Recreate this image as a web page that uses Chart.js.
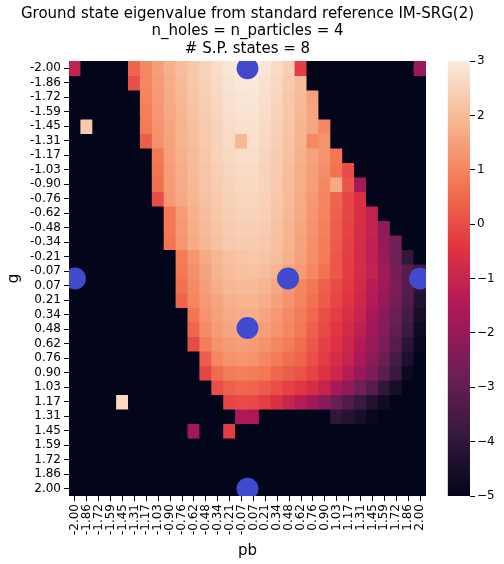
<!DOCTYPE html>
<html><head><meta charset="utf-8">
<script src="https://cdn.jsdelivr.net/npm/chart.js@4"></script>
<style>
html,body{margin:0;padding:0;background:#fff;}
#wrap{position:relative;width:504px;height:564px;overflow:hidden;}
#wrap canvas{position:absolute;top:0;}
</style></head><body>
<div id="wrap">
<canvas id="main" width="504" height="564" style="left:0"></canvas>
<canvas id="cbar" width="78" height="564" style="left:426px"></canvas>
</div>
<script>
const B = -5;
const pbLabels = ["-2.00","-1.86","-1.72","-1.59","-1.45","-1.31","-1.17","-1.03","-0.90","-0.76","-0.62","-0.48","-0.34","-0.21","-0.07","0.07","0.21","0.34","0.48","0.62","0.76","0.90","1.03","1.17","1.31","1.45","1.59","1.72","1.86","2.00"];
const gLabels = ["-2.00","-1.86","-1.72","-1.59","-1.45","-1.31","-1.17","-1.03","-0.90","-0.76","-0.62","-0.48","-0.34","-0.21","-0.07","0.07","0.21","0.34","0.48","0.62","0.76","0.90","1.03","1.17","1.31","1.45","1.59","1.72","1.86","2.00"];
const colorbarTicks = [-5,-4,-3,-2,-1,0,1,2,3];
const titleLines = ["Ground state eigenvalue from standard reference IM-SRG(2)","n_holes = n_particles = 4","# S.P. states = 8"];
// rows = g (top to bottom), columns = pb (left to right)
const eigenvalues = [
[-1.1,B,B,B,B,0.4,1.05,1.45,1.8,2.05,2.25,2.5,2.7,2.9,2.97,3.0,2.9,2.65,2.4,-0.25,B,B,B,B,B,B,B,B,B,-1.9],
[B,B,B,B,B,0.05,1.0,1.4,1.75,2.0,2.25,2.45,2.65,2.85,2.95,2.95,2.8,2.6,2.3,2.05,B,B,B,B,B,B,B,B,B,B],
[B,B,B,B,B,B,0.95,1.35,1.7,1.95,2.2,2.4,2.6,2.8,2.9,2.9,2.75,2.55,2.25,2.0,1.5,B,B,B,B,B,B,B,B,B],
[B,B,B,B,B,B,0.9,1.3,1.65,1.9,2.15,2.35,2.55,2.75,2.85,2.85,2.7,2.5,2.25,1.95,1.6,B,B,B,B,B,B,B,B,B],
[B,2.3,B,B,B,B,0.8,1.25,1.6,1.85,2.1,2.3,2.5,2.7,2.8,2.8,2.65,2.45,2.2,1.9,1.6,1.05,B,B,B,B,B,B,B,B],
[B,B,B,B,B,B,0.3,1.2,1.55,1.85,2.05,2.3,2.5,2.65,1.95,2.75,2.6,2.4,2.15,1.85,1.05,1.25,B,B,B,B,B,B,B,B],
[B,B,B,B,B,B,B,0.75,1.5,1.8,2.0,2.25,2.45,2.6,2.7,2.7,2.55,2.35,2.1,1.8,1.55,1.25,0.7,B,B,B,B,B,B,B],
[B,B,B,B,B,B,B,0.7,1.45,1.75,2.0,2.2,2.4,2.55,2.65,2.65,2.5,2.35,2.05,1.75,1.45,1.15,0.65,0.0,B,B,B,B,B,B],
[B,B,B,B,B,B,B,0.65,1.4,1.7,1.95,2.2,2.35,2.5,2.6,2.6,2.5,2.3,2.0,1.75,1.45,1.05,1.7,0.15,-1.7,B,B,B,B,B],
[B,B,B,B,B,B,B,0.0,1.35,1.65,1.9,2.15,2.3,2.45,2.55,2.55,2.45,2.25,2.0,1.7,1.35,1.0,0.4,-0.1,-0.55,B,B,B,B,B],
[B,B,B,B,B,B,B,B,0.75,1.4,1.8,2.05,2.25,2.4,2.5,2.5,2.4,2.2,1.95,1.65,1.3,0.95,0.35,-0.1,-0.6,-1.1,B,B,B,B],
[B,B,B,B,B,B,B,B,0.75,1.35,1.75,2.0,2.2,2.35,2.4,2.4,2.35,2.15,1.9,1.6,1.25,0.9,0.3,-0.15,-0.65,-1.1,-2.05,B,B,B],
[B,B,B,B,B,B,B,B,0.7,1.3,1.7,1.95,2.15,2.3,2.35,2.35,2.3,2.1,1.85,1.55,1.2,0.85,0.25,-0.2,-0.7,-1.15,-2.0,-2.7,B,B],
[B,B,B,B,B,B,B,B,B,0.8,1.3,1.65,1.95,2.1,2.2,2.25,2.2,2.05,1.8,1.5,1.15,0.8,0.2,-0.25,-0.75,-1.2,-1.95,-2.7,-3.95,B],
[B,B,B,B,B,B,B,B,B,0.75,1.2,1.55,1.85,2.05,2.1,2.15,2.05,1.85,1.6,1.4,1.05,0.65,0.2,-0.25,-0.7,-1.1,-1.8,-2.6,-3.2,-3.7],
[B,B,B,B,B,B,B,B,B,0.65,1.1,1.45,1.75,1.95,2.0,2.0,1.9,1.65,1.35,1.0,0.75,0.35,0.0,-0.35,-0.8,-1.35,-1.85,-2.5,-3.2,-4.1],
[B,B,B,B,B,B,B,B,B,0.4,1.0,1.35,1.6,1.8,1.85,1.85,1.75,1.5,1.25,0.95,0.65,0.25,-0.1,-0.45,-0.9,-1.45,-2.0,-2.6,-3.3,-4.3],
[B,B,B,B,B,B,B,B,B,B,0.7,1.25,1.5,1.7,1.75,1.75,1.6,1.35,1.1,0.85,0.5,0.05,-0.25,-0.6,-1.0,-1.6,-2.2,-2.85,-3.5,-4.5],
[B,B,B,B,B,B,B,B,B,B,0.45,1.1,1.4,1.6,1.65,1.6,1.45,1.25,1.0,0.75,0.35,-0.05,-0.4,-0.75,-1.2,-1.75,-2.35,-3.0,-3.75,-4.7],
[B,B,B,B,B,B,B,B,B,B,0.0,0.85,1.25,1.4,1.45,1.4,1.25,1.05,0.85,0.6,0.2,-0.2,-0.5,-0.9,-1.45,-1.95,-2.55,-3.2,-4.1,-4.85],
[B,B,B,B,B,B,B,B,B,B,B,0.3,1.0,1.25,1.3,1.25,1.05,0.85,0.6,0.4,0.05,-0.3,-0.7,-1.05,-1.6,-2.15,-2.8,-3.5,-4.4,B],
[B,B,B,B,B,B,B,B,B,B,B,-0.1,0.55,0.85,0.9,0.85,0.75,0.45,0.3,0.15,-0.15,-0.5,-0.9,-1.35,-1.9,-2.45,-3.1,-3.8,-4.8,B],
[B,B,B,B,B,B,B,B,B,B,B,B,0.05,0.35,0.45,0.4,0.25,0.05,-0.2,-0.4,-0.7,-1.05,-1.6,-2.1,-2.7,-3.2,-4.0,-4.5,B,B],
[B,B,B,B,2.6,B,B,B,B,B,B,B,B,-0.1,0.0,-0.05,-0.25,-0.55,-1.0,-1.35,-1.8,-2.3,-2.85,-3.3,-3.8,-4.3,-4.65,B,B,B],
[B,B,B,B,B,B,B,B,B,B,B,B,B,B,-1.55,-1.55,B,B,B,B,B,B,-3.95,-4.2,-4.5,-4.85,B,B,B,B],
[B,B,B,B,B,B,B,B,B,B,-1.8,B,B,-0.25,B,B,B,B,B,B,B,B,B,B,B,B,B,B,B,B],
[B,B,B,B,B,B,B,B,B,B,B,B,B,B,B,B,B,B,B,B,B,B,B,B,B,B,B,B,B,B],
[B,B,B,B,B,B,B,B,B,B,B,B,B,B,B,B,B,B,B,B,B,B,B,B,B,B,B,B,B,B],
[B,B,B,B,B,B,B,B,B,B,B,B,B,B,B,B,B,B,B,B,B,B,B,B,B,B,B,B,B,B],
[B,B,B,B,B,B,B,B,B,B,B,B,B,B,B,B,B,B,B,B,B,B,B,B,B,B,B,B,B,B]
];
const markerPb = [0, -2, 2, 0, 0.47, 0];
const markerG  = [-2, 0, 0, 2, 0, 0.47];

const vmin = -5, vmax = 3;
const rocketStops = [[3,5,26],[53,25,62],[112,31,87],[173,23,89],[225,51,66],[243,118,81],[246,180,143],[250,235,221]];
function rocket(t){
  t = Math.max(0, Math.min(1, t));
  const s = t * 7, k = Math.min(6, Math.floor(s)), f = s - k;
  const a = rocketStops[k], b = rocketStops[k+1];
  return 'rgb(' + [0,1,2].map(c => Math.round(a[c] + (b[c]-a[c])*f)).join(',') + ')';
}
const colorFor = v => rocket((v - vmin) / (vmax - vmin));

Chart.defaults.font.family = "'DejaVu Sans', sans-serif";
Chart.defaults.color = '#000';

const titlePlugin = {
  id: 'centeredTitle',
  afterDraw(chart) {
    const {ctx, chartArea} = chart;
    const cx = (chartArea.left + chartArea.right) / 2;
    ctx.save();
    ctx.fillStyle = '#000';
    ctx.font = "15px 'DejaVu Sans', sans-serif";
    ctx.textAlign = 'center';
    ctx.textBaseline = 'middle';
    titleLines.forEach((line, k) => ctx.fillText(line, cx, 14 + k * 17.6));
    ctx.restore();
  }
};

const halfStep = 2/29;
const datasets = eigenvalues.map((row, i) => ({
  type: 'bar',
  label: gLabels[i],
  data: row.map((v, j) => ({x: pbLabels[j], y: [i, i+1], v: v})),
  backgroundColor: ctx => colorFor(ctx.raw ? ctx.raw.v : vmin),
  borderWidth: 0,
  inflateAmount: 0.5,
  barPercentage: 1,
  categoryPercentage: 1,
  grouped: false,
  xAxisID: 'x', yAxisID: 'y',
  order: 2
}));
datasets.push({
  type: 'scatter',
  label: 'points',
  data: markerPb.map((p, k) => ({x: p, y: markerG[k]})),
  xAxisID: 'x2', yAxisID: 'y2',
  pointRadius: 11, pointHoverRadius: 11,
  pointBackgroundColor: '#4149cc', pointBorderWidth: 0, borderWidth: 0,
  showLine: false,
  order: 0
});

new Chart(document.getElementById('main'), {
  type: 'bar',
  data: { labels: pbLabels, datasets: datasets },
  plugins: [titlePlugin],
  options: {
    responsive: false, animation: false, devicePixelRatio: 1,
    layout: { padding: { left: 0, right: 78, top: 61, bottom: 0 } },
    plugins: {
      legend: { display: false }, tooltip: { enabled: false }, title: { display: false }
    },
    scales: {
      x: { type: 'category', labels: pbLabels, offset: true,
        grid: { display: true, offset: false, drawOnChartArea: false, drawTicks: true, tickLength: 5, color: '#000' },
        border: { display: false },
        ticks: { autoSkip: false, maxRotation: 90, minRotation: 90, font: { size: 12 }, color: '#000', padding: 3 },
        title: { display: true, text: 'pb', font: { size: 15 }, color: '#000', padding: { top: 4, bottom: 4 } },
        afterFit: s => { s.height = 68; } },
      y: { type: 'linear', min: 0, max: 30, reverse: true,
        grid: { display: true, drawOnChartArea: false, drawTicks: true, tickLength: 5, color: '#000' },
        border: { display: false },
        afterBuildTicks: s => { s.ticks = gLabels.map((_, i) => ({ value: i + 0.5 })); },
        ticks: { autoSkip: false, callback: (v, i) => gLabels[i], font: { size: 12 }, color: '#000', padding: 3 },
        title: { display: true, text: 'g', font: { size: 15 }, color: '#000', padding: { top: 5, bottom: 5 } },
        afterFit: s => { s.width = 69; } },
      x2: { type: 'linear', display: false, offset: false, min: -2 - halfStep, max: 2 + halfStep },
      y2: { type: 'linear', display: false, offset: false, min: -2 - halfStep, max: 2 + halfStep, reverse: true }
    }
  }
});

new Chart(document.getElementById('cbar'), {
  type: 'bar',
  data: { labels: [''], datasets: [{
    data: [[vmin, vmax]],
    backgroundColor: ctx => {
      const ch = ctx.chart;
      if (!ch.chartArea) return '#000';
      const ys = ch.scales.y;
      const g = ch.ctx.createLinearGradient(0, ys.getPixelForValue(vmin), 0, ys.getPixelForValue(vmax));
      for (let k = 0; k <= 70; k++) { g.addColorStop(k/70, rocket(k/70)); }
      return g;
    },
    borderWidth: 0, barPercentage: 1, categoryPercentage: 1
  }]},
  options: {
    responsive: false, animation: false, devicePixelRatio: 1,
    layout: { padding: { left: 21.7, right: 0, top: 61, bottom: 68 } },
    plugins: { legend: { display: false }, tooltip: { enabled: false } },
    scales: {
      x: { display: false },
      y: { position: 'right', min: vmin, max: vmax,
        afterBuildTicks: s => { s.ticks = colorbarTicks.map(v => ({ value: v })); },
        ticks: { callback: v => (v < 0 ? '\u2212' + (-v) : String(v)), color: '#000', font: { size: 12 }, padding: 2 },
        grid: { display: true, drawOnChartArea: false, drawTicks: true, tickLength: 5, color: '#000' },
        border: { display: false },
        afterFit: s => { s.width = 34; } }
    }
  }
});
</script>
</body></html>
